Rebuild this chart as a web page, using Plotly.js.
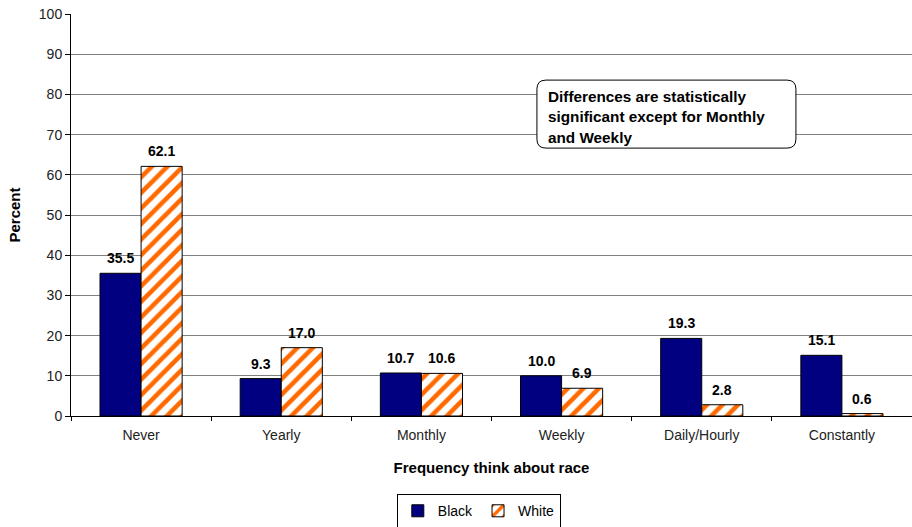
<!DOCTYPE html>
<html><head><meta charset="utf-8">
<script src="https://cdn.plot.ly/plotly-3.0.1.min.js"></script>
<style>html,body{margin:0;padding:0;background:#fff}#chart{width:912px;height:527px}</style>
</head><body><div id="chart"></div>
<script>
const categories = ["Never","Yearly","Monthly","Weekly","Daily/Hourly","Constantly"];
const blackValues = [35.5, 9.3, 10.7, 10.0, 19.3, 15.1];
const whiteValues = [62.1, 17.0, 10.6, 6.9, 2.8, 0.6];
const noteLines = ["Differences are statistically","significant except for Monthly","and Weekly"];

const FONT = "Liberation Sans, Arial, sans-serif";
const traces = [
  {type:"bar", name:"Black", x:categories, y:blackValues,
   marker:{color:"#000080", line:{color:"#000000", width:1}}, hoverinfo:"none"},
  {type:"bar", name:"White", x:categories, y:whiteValues,
   marker:{color:"#ffffff", line:{color:"#000000", width:1},
     pattern:{shape:"/", fgcolor:"#ff6a00", bgcolor:"#ffffff", size:11, solidity:0.42}}, hoverinfo:"none"}
];

const annotations = [];
function fmt(v){return v.toFixed(1);}
categories.forEach((c,i)=>{
  annotations.push({x:c, y:blackValues[i], xref:"x", yref:"y", text:"<b>"+fmt(blackValues[i])+"</b>",
    showarrow:false, yanchor:"bottom", xshift:-20.5, yshift:5, font:{family:FONT,size:14,color:"#000"}});
  annotations.push({x:c, y:whiteValues[i], xref:"x", yref:"y", text:"<b>"+fmt(whiteValues[i])+"</b>",
    showarrow:false, yanchor:"bottom", xshift:20.5, yshift:5, font:{family:FONT,size:14,color:"#000"}});
});
noteLines.forEach((t,k)=>{
  annotations.push({x:0.565, y:75.1, xref:"paper", yref:"y", text:"<b>"+t+"</b>", showarrow:false,
    xanchor:"left", yanchor:"middle", yshift:18 - 20.5*k, align:"left", font:{family:FONT,size:15.3,color:"#000"}});
});

// rounded rectangle centered at anchor (pixels)
const hw=129.5, hh=34, r=9;
const path = `M ${-hw+r},${-hh} L ${hw-r},${-hh} Q ${hw},${-hh} ${hw},${-hh+r} L ${hw},${hh-r} Q ${hw},${hh} ${hw-r},${hh} L ${-hw+r},${hh} Q ${-hw},${hh} ${-hw},${hh-r} L ${-hw},${-hh+r} Q ${-hw},${-hh} ${-hw+r},${-hh} Z`;

const layout = {
  width:912, height:527,
  margin:{l:71, r:0, t:14, b:111},
  paper_bgcolor:"#ffffff", plot_bgcolor:"#ffffff",
  font:{family:FONT, size:14, color:"#000"},
  barmode:"group", bargap:0.414, bargroupgap:0,
  showlegend:true,
  legend:{orientation:"h", xref:"container", yref:"container", x:0.525, xanchor:"center", y:0.03, yanchor:"middle",
    bordercolor:"#000", borderwidth:1, font:{family:FONT,size:14,color:"#000"}, itemwidth:30, tracegroupgap:0},
  xaxis:{type:"category", showline:true, linecolor:"#000", linewidth:1, ticks:"outside", tickson:"boundaries",
    ticklen:4, tickcolor:"#000", tickfont:{family:FONT,size:14,color:"#222"}, showgrid:false, ticklabelstandoff:6,
    title:{text:"<b>Frequency think about race</b>", font:{family:FONT,size:15,color:"#000"}, standoff:20}},
  yaxis:{range:[0,100], dtick:10, showline:true, linecolor:"#000", linewidth:1, ticks:"outside", ticklen:5,
    tickcolor:"#000", showgrid:true, gridcolor:"#808080", gridwidth:1, zeroline:false,
    tickfont:{family:FONT,size:14,color:"#222"},
    title:{text:"<b>Percent</b>", font:{family:FONT,size:15,color:"#000"}, standoff:14}},
  annotations:annotations,
  shapes:[{type:"path", xref:"paper", yref:"y", xsizemode:"pixel", ysizemode:"pixel", xanchor:0.708, yanchor:75.1,
    path:path, line:{color:"#000", width:1}, fillcolor:"#ffffff", layer:"above"}]
};
Plotly.newPlot("chart", traces, layout, {displayModeBar:false, staticPlot:true});
</script></body></html>
